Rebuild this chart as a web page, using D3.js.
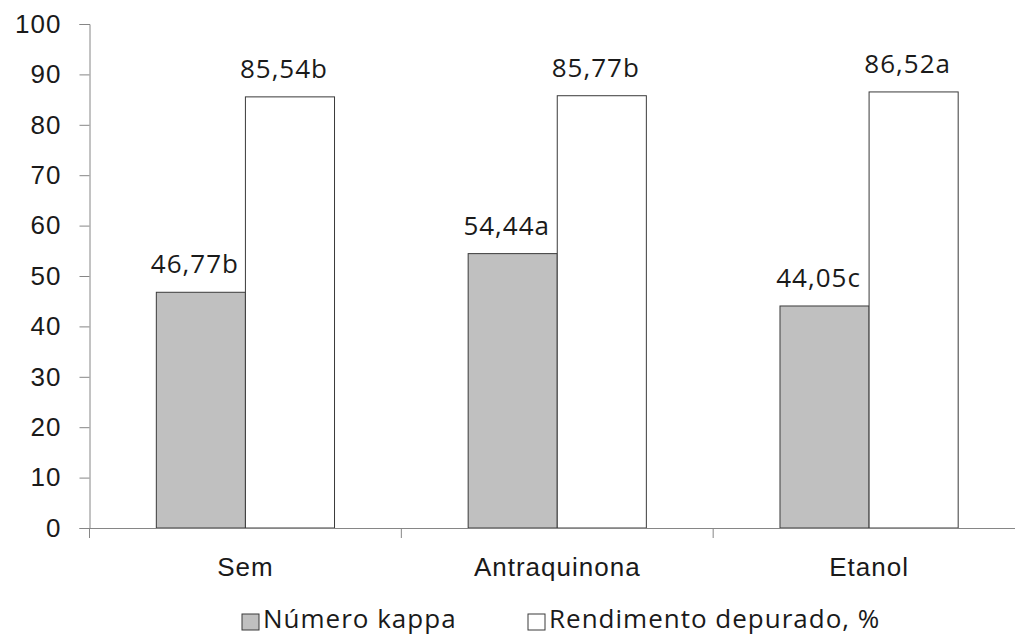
<!DOCTYPE html>
<html>
<head>
<meta charset="utf-8">
<script src="https://cdn.jsdelivr.net/npm/d3@7"></script>
<style>
  html, body { margin: 0; padding: 0; background: #fff; }
  svg { display: block; font-family: "Open Sans", Lato, sans-serif; letter-spacing: 1px; }
</style>
</head>
<body>
<svg id="chart" width="1015" height="636"></svg>
<script>
// Treatments and measured values
const categories = ["Sem", "Antraquinona", "Etanol"];
const seriesNames = ["Número kappa", "Rendimento depurado, %"];
const kappa = [46.77, 54.44, 44.05];
const rendimento = [85.54, 85.77, 86.52];
const kappaLetters = ["b", "a", "c"];
const rendimentoLetters = ["b", "b", "a"];
const yTicks = [0, 10, 20, 30, 40, 50, 60, 70, 80, 90, 100];

const fills = ["#c0c0c0", "#ffffff"];
const textColor = "#1a1a1a";
const axisColor = "#868686";
const fontSize = "26px";

const svg = d3.select("#chart");
const plotLeft = 89.5, plotRight = 1025, plotTop = 24, plotBottom = 528;

const x = d3.scaleBand().domain(categories).range([plotLeft, plotRight]).paddingInner(0).paddingOuter(0);
const inner = d3.scaleBand().domain(seriesNames).range([0, x.bandwidth()]).paddingOuter(0.75).paddingInner(0);
const y = d3.scaleLinear().domain([0, 100]).range([plotBottom, plotTop]);

const rows = categories.map((c, i) => ({
  cat: c,
  values: [
    { s: seriesNames[0], v: kappa[i], letter: kappaLetters[i], fill: fills[0] },
    { s: seriesNames[1], v: rendimento[i], letter: rendimentoLetters[i], fill: fills[1] }
  ]
}));

const fmt = v => d3.format(".2f")(v).replace(".", ",");

// Y axis
const yAxis = svg.append("g")
  .attr("transform", `translate(${plotLeft},0)`)
  .call(d3.axisLeft(y).tickValues(yTicks).tickSize(10).tickPadding(18));
yAxis.select(".domain").attr("stroke", axisColor);
yAxis.selectAll(".tick line").attr("stroke", axisColor);
yAxis.selectAll(".tick text").attr("fill", textColor).style("font-size", fontSize);

// Bars
const groups = svg.append("g").selectAll("g").data(rows).join("g")
  .attr("transform", d => `translate(${x(d.cat)},0)`);

groups.selectAll("rect").data(d => d.values).join("rect")
  .attr("x", d => inner(d.s))
  .attr("y", d => y(d.v))
  .attr("width", inner.bandwidth())
  .attr("height", d => y(0) - y(d.v))
  .attr("fill", d => d.fill)
  .attr("stroke", "#3a3a3a")
  .attr("stroke-width", 1);

groups.selectAll("text.val").data(d => d.values).join("text")
  .attr("class", "val")
  .attr("x", d => inner(d.s) + inner.bandwidth() / 2 - 6)
  .attr("y", d => y(d.v) - 19)
  .attr("text-anchor", "middle")
  .attr("fill", textColor)
  .style("font-size", fontSize)
  .text(d => fmt(d.v) + d.letter);

// X axis
const xAxis = svg.append("g")
  .attr("transform", `translate(0,${plotBottom})`)
  .call(d3.axisBottom(x).tickSize(0).tickPadding(30));
xAxis.select(".domain").attr("stroke", axisColor);
xAxis.selectAll(".tick text").attr("fill", textColor).style("font-size", fontSize);
// category separators
svg.append("g").selectAll("line")
  .data(categories.concat(["end"]))
  .join("line")
  .attr("x1", (d, i) => plotLeft + i * x.bandwidth())
  .attr("x2", (d, i) => plotLeft + i * x.bandwidth())
  .attr("y1", plotBottom)
  .attr("y2", plotBottom + 10)
  .attr("stroke", axisColor);

// Legend
const legendItems = [
  { name: seriesNames[0], fill: fills[0], x: 242 },
  { name: seriesNames[1], fill: fills[1], x: 528 }
];
const lg = svg.append("g").selectAll("g").data(legendItems).join("g")
  .attr("transform", d => `translate(${d.x},614)`);
lg.append("rect").attr("width", 17).attr("height", 16)
  .attr("fill", d => d.fill).attr("stroke", "#3a3a3a");
lg.append("text").attr("x", 21).attr("y", 14)
  .attr("fill", textColor).style("font-size", fontSize)
  .text(d => d.name);
</script>
</body>
</html>
